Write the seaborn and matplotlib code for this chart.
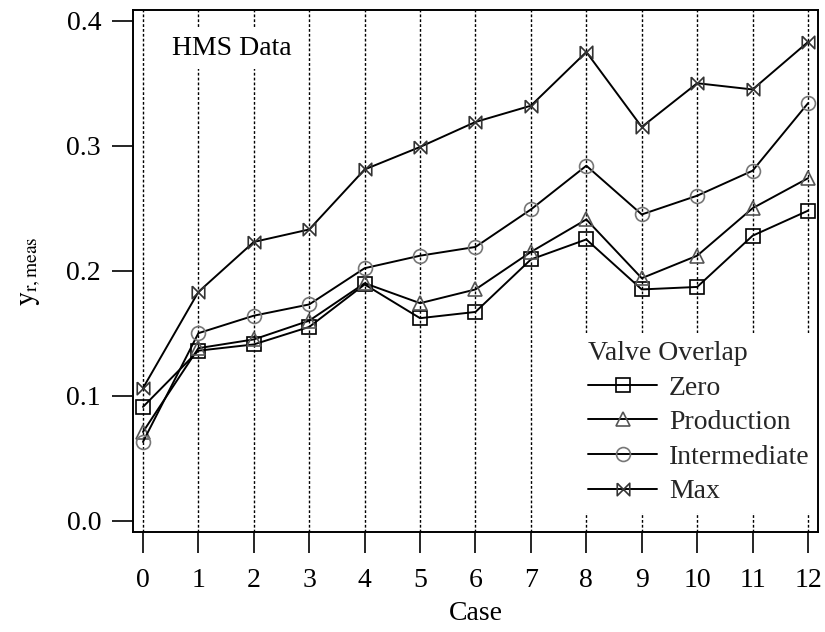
import numpy as np
import pandas as pd
import seaborn as sns
import matplotlib.pyplot as plt

# values
cases = list(range(13))
zero = [0.091, 0.136, 0.141, 0.155, 0.189, 0.162, 0.167, 0.209, 0.225, 0.185, 0.187, 0.228, 0.248]
production = [0.071, 0.138, 0.145, 0.160, 0.190, 0.174, 0.185, 0.215, 0.241, 0.194, 0.212, 0.250, 0.274]
intermediate = [0.063, 0.150, 0.164, 0.173, 0.202, 0.212, 0.219, 0.249, 0.284, 0.245, 0.260, 0.280, 0.334]
max_overlap = [0.106, 0.183, 0.223, 0.233, 0.281, 0.299, 0.319, 0.332, 0.375, 0.315, 0.350, 0.345, 0.383]
series_names = ['Zero', 'Production', 'Intermediate', 'Max']

sns.set_theme(style='white')
plt.rcParams['font.family'] = ['Liberation Serif', 'DejaVu Serif']
plt.rcParams['mathtext.fontset'] = 'stix'

df = pd.DataFrame({'Case': cases, 'Zero': zero, 'Production': production,
                   'Intermediate': intermediate, 'Max': max_overlap})

bowtie = [(-1, 1), (1, -1), (1, 1), (-1, -1), (-1, 1)]
marker_style = {
    'Zero': dict(marker='s', markersize=9.5, mec='black'),
    'Production': dict(marker='^', markersize=9.5, mec='#555555'),
    'Intermediate': dict(marker='o', markersize=10, mec='#777777'),
    'Max': dict(marker=bowtie, markersize=9, mec='#333333'),
}

fig = plt.figure(figsize=(8.25, 6.32), dpi=100)
ax = fig.add_axes([0.1612, 0.1582, 0.8303, 0.826])

for name in series_names:
    sns.lineplot(x='Case', y=name, data=df, ax=ax, color='black', linewidth=1.4,
                 mfc='none', mew=1.2, label=name, zorder=3, **marker_style[name])

ax.set_xlim(-0.18, 12.18)
ax.set_ylim(-0.0091, 0.4086)
ax.set_xticks(cases)
ax.set_yticks([0.0, 0.1, 0.2, 0.3, 0.4])
ax.set_yticklabels(['0.0', '0.1', '0.2', '0.3', '0.4'])

ax.grid(axis='x', color='black', linestyle=(0, (2, 1.5)), linewidth=1.0)
ax.set_axisbelow(True)

for sp in ax.spines.values():
    sp.set_color('black')
    sp.set_linewidth(1.4)
    sp.set_zorder(6)

ax.tick_params(axis='both', which='major', direction='out', length=15, width=1.2,
               colors='black', labelsize=20, left=True, bottom=True)
ax.tick_params(axis='x', pad=11)
ax.tick_params(axis='y', pad=8)

ax.set_xlabel('Case', fontsize=20, color='black', labelpad=6)
ax.set_ylabel(r'$\mathrm{y_{r,meas}}$', fontsize=20, color='black')
ax.yaxis.set_label_coords(-0.131, 0.5)

ax.text(0.057, 0.927, 'HMS Data', transform=ax.transAxes, fontsize=20,
        ha='left', va='center', color='black', zorder=2,
        bbox=dict(facecolor='white', edgecolor='none', pad=6))

leg = ax.legend(title='Valve Overlap', loc='upper left', bbox_to_anchor=(0.652, 0.382),
                borderaxespad=0, borderpad=0.3, fontsize=20, title_fontsize=20,
                handlelength=2.5, handletextpad=0.42, labelspacing=0.33,
                frameon=True, fancybox=False, alignment='left')
leg.get_frame().set_facecolor('white')
leg.get_frame().set_edgecolor('none')
leg.get_frame().set_alpha(1)
leg.set_zorder(5)

fig.savefig('out.png', dpi=100)
